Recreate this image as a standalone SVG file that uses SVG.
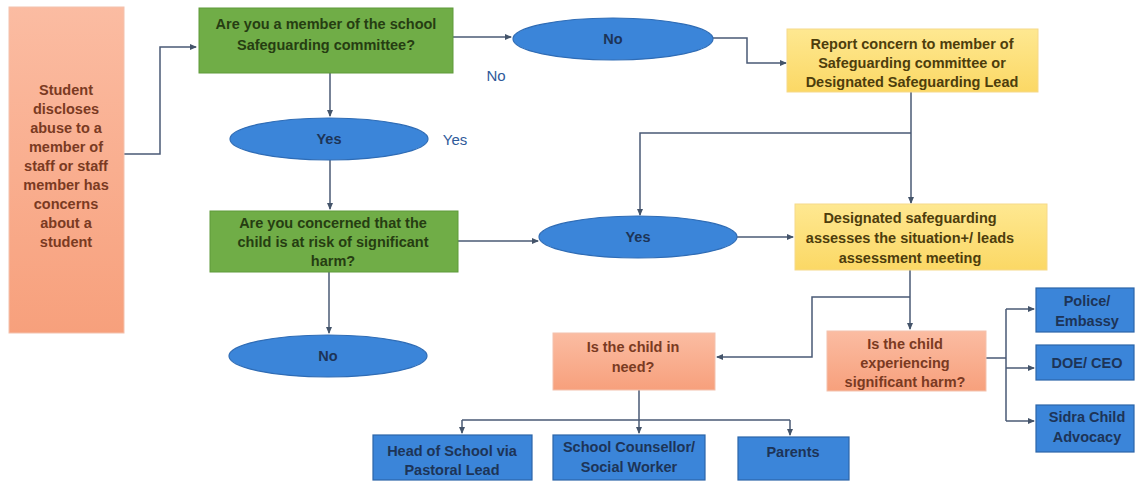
<svg xmlns="http://www.w3.org/2000/svg" width="1135" height="487" viewBox="0 0 1135 487">
<defs>
<linearGradient id="gOr" x1="0" y1="0" x2="0" y2="1"><stop offset="0" stop-color="#fbbca2"/><stop offset="1" stop-color="#f7a07c"/></linearGradient>
<linearGradient id="gYe" x1="0" y1="0" x2="0" y2="1"><stop offset="0" stop-color="#fee891"/><stop offset="1" stop-color="#fbd865"/></linearGradient>
<marker id="ah" markerWidth="8" markerHeight="8" refX="6" refY="4" orient="auto" markerUnits="userSpaceOnUse"><path d="M0,1 L7,4 L0,7 Z" fill="#44546a"/></marker>
<style>
.t{font-family:"Liberation Sans",Arial,sans-serif;font-size:14.5px;font-weight:bold;text-anchor:middle}
.or{fill:url(#gOr);stroke:#f3c2ae;stroke-width:1}
.gr{fill:#70ad47;stroke:#5f9a3a;stroke-width:1}
.ye{fill:url(#gYe);stroke:#f6d98a;stroke-width:1}
.el{fill:#3b85d9;stroke:#2f6cb5;stroke-width:1.2}
.bl{fill:#3b85d9;stroke:#2c65a8;stroke-width:1.2}
.to{fill:#7a3a22}
.tg{fill:#263d12}
.ty{fill:#4d3d0c}
.tb{fill:#1d3457}
.lab{font-family:"Liberation Sans",Arial,sans-serif;font-size:15px;fill:#2f5a9a;text-anchor:middle}
.c{fill:none;stroke:#4a5a75;stroke-width:1.5}
</style>
</defs>
<rect width="1135" height="487" fill="#ffffff"/>
<g id="connectors">
<path class="c" d="M124,154 H160 V47 H196" marker-end="url(#ah)"/>
<path class="c" d="M453,37 H511" marker-end="url(#ah)"/>
<path class="c" d="M713,38 H747 V63 H786" marker-end="url(#ah)"/>
<path class="c" d="M330,73 V116" marker-end="url(#ah)"/>
<path class="c" d="M330,160 V209" marker-end="url(#ah)"/>
<path class="c" d="M458,241 H538" marker-end="url(#ah)"/>
<path class="c" d="M911,92 V203" marker-end="url(#ah)"/>
<path class="c" d="M911,133 H640 V215" marker-end="url(#ah)"/>
<path class="c" d="M737,237 H793" marker-end="url(#ah)"/>
<path class="c" d="M329,272 V333" marker-end="url(#ah)"/>
<path class="c" d="M910,270 V329" marker-end="url(#ah)"/>
<path class="c" d="M910,297 H812 V357 H717" marker-end="url(#ah)"/>
<path class="c" d="M986,358 H1006 M1006,309 V421"/>
<path class="c" d="M1006,309 H1034" marker-end="url(#ah)"/>
<path class="c" d="M1006,368 H1034" marker-end="url(#ah)"/>
<path class="c" d="M1006,421 H1034" marker-end="url(#ah)"/>
<path class="c" d="M639,390 V420 M462,420 H790"/>
<path class="c" d="M462,420 V433" marker-end="url(#ah)"/>
<path class="c" d="M639,420 V433" marker-end="url(#ah)"/>
<path class="c" d="M790,420 V435" marker-end="url(#ah)"/>
</g>
<g id="labels">
<text class="lab" x="496" y="81">No</text>
<text class="lab" x="455" y="145">Yes</text>
</g>
<g id="student">
<rect class="or" x="9" y="7" width="115" height="326"/>
<text class="t to" x="66"><tspan x="66" y="95">Student</tspan><tspan x="66" y="114">discloses</tspan><tspan x="66" y="133">abuse to a</tspan><tspan x="66" y="152">member of</tspan><tspan x="66" y="171">staff or staff</tspan><tspan x="66" y="190">member has</tspan><tspan x="66" y="209">concerns</tspan><tspan x="66" y="228">about a</tspan><tspan x="66" y="247">student</tspan></text>
</g>
<g id="q-member">
<rect class="gr" x="199" y="8" width="254" height="65"/>
<text class="t tg"><tspan x="326" y="29">Are you a member of the school</tspan><tspan x="326" y="50">Safeguarding committee?</tspan></text>
</g>
<g id="no-1">
<ellipse class="el" cx="613" cy="39" rx="100" ry="21"/>
<text class="t tb" x="613" y="44">No</text>
</g>
<g id="report">
<rect class="ye" x="787" y="29" width="251" height="63"/>
<text class="t ty"><tspan x="912" y="49">Report concern to member of</tspan><tspan x="912" y="68">Safeguarding committee or</tspan><tspan x="912" y="87">Designated Safeguarding Lead</tspan></text>
</g>
<g id="yes-1">
<ellipse class="el" cx="329" cy="139" rx="99" ry="21"/>
<text class="t tb" x="329" y="144">Yes</text>
</g>
<g id="q-risk">
<rect class="gr" x="210" y="211" width="248" height="61"/>
<text class="t tg"><tspan x="333" y="228">Are you concerned that the</tspan><tspan x="333" y="247">child is at risk of significant</tspan><tspan x="333" y="266">harm?</tspan></text>
</g>
<g id="yes-2">
<ellipse class="el" cx="638" cy="237" rx="99" ry="21"/>
<text class="t tb" x="638" y="242">Yes</text>
</g>
<g id="assess">
<rect class="ye" x="795" y="204" width="252" height="66"/>
<text class="t ty"><tspan x="910" y="223">Designated safeguarding</tspan><tspan x="910" y="243">assesses the situation+/ leads</tspan><tspan x="910" y="263">assessment meeting</tspan></text>
</g>
<g id="no-2">
<ellipse class="el" cx="328" cy="356" rx="99" ry="21"/>
<text class="t tb" x="328" y="361">No</text>
</g>
<g id="q-need">
<rect class="or" x="553" y="333" width="162" height="57"/>
<text class="t to"><tspan x="633" y="352">Is the child in</tspan><tspan x="633" y="372">need?</tspan></text>
</g>
<g id="q-harm">
<rect class="or" x="827" y="331" width="159" height="60"/>
<text class="t to"><tspan x="905" y="349">Is the child</tspan><tspan x="905" y="368">experiencing</tspan><tspan x="905" y="387">significant harm?</tspan></text>
</g>
<g id="police">
<rect class="bl" x="1036" y="288" width="98" height="44"/>
<text class="t tb"><tspan x="1087" y="306">Police/</tspan><tspan x="1087" y="326">Embassy</tspan></text>
</g>
<g id="doe">
<rect class="bl" x="1036" y="345" width="98" height="35"/>
<text class="t tb" x="1087" y="368">DOE/ CEO</text>
</g>
<g id="sidra">
<rect class="bl" x="1036" y="405" width="98" height="47"/>
<text class="t tb"><tspan x="1087" y="422">Sidra Child</tspan><tspan x="1087" y="442">Advocacy</tspan></text>
</g>
<g id="head">
<rect class="bl" x="373" y="435" width="159" height="45"/>
<text class="t tb"><tspan x="452" y="456">Head of School via</tspan><tspan x="452" y="475">Pastoral Lead</tspan></text>
</g>
<g id="counsellor">
<rect class="bl" x="553" y="435" width="152" height="45"/>
<text class="t tb"><tspan x="629" y="452">School Counsellor/</tspan><tspan x="629" y="472">Social Worker</tspan></text>
</g>
<g id="parents">
<rect class="bl" x="738" y="437" width="111" height="43"/>
<text class="t tb" x="793" y="457">Parents</text>
</g>
</svg>
